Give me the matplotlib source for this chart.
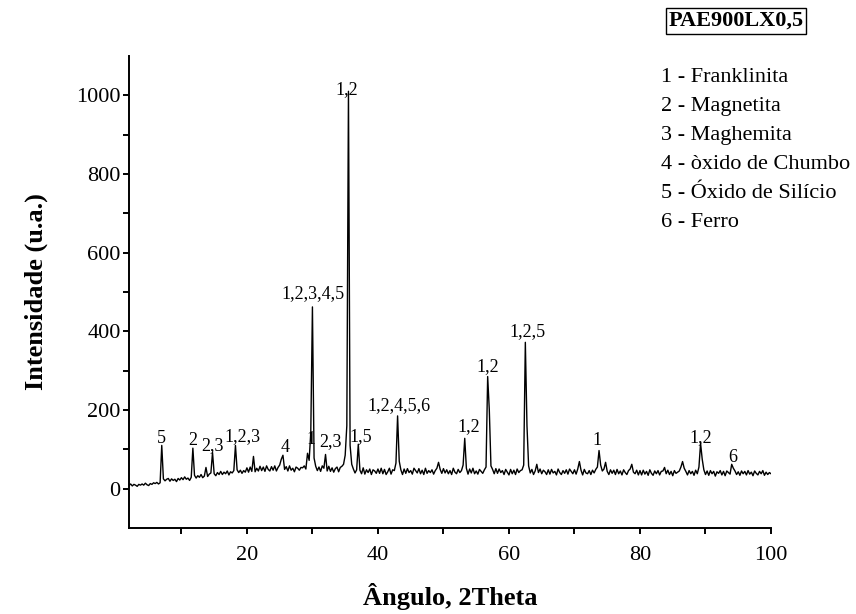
import numpy as np
import matplotlib
matplotlib.use('Agg')
import matplotlib.pyplot as plt
from matplotlib.ticker import MultipleLocator

plt.rcParams['font.family'] = ['Liberation Serif', 'DejaVu Serif']

# XRD pattern, step 0.25 deg from 2 to 100
start_angle = 2.0
step = 0.25
intensity = [
    8, 12, 7, 11, 9, 6, 11, 9,              # 2
    12, 9, 14, 10, 8, 13, 11, 15,           # 4
    13, 16, 12, 15, 110, 25, 20, 24,        # 6
    26, 19, 25, 21, 24, 18, 26, 22,         # 8
    28, 23, 30, 24, 27, 21, 29, 103,        # 10
    34, 27, 33, 29, 36, 28, 32, 54,         # 12
    31, 37, 40, 92, 38, 33, 41, 36,         # 14
    44, 36, 42, 38, 45, 35, 43, 40,         # 16
    46, 110, 48, 41, 47, 39, 46, 42,        # 18
    53, 42, 55, 44, 82, 43, 52, 45,         # 20
    57, 46, 55, 44, 58, 49, 45, 56,         # 22
    47, 58, 45, 54, 60, 75, 85, 49,         # 24
    56, 45, 58, 47, 52, 43, 55, 52,         # 26
    47, 54, 53, 58, 50, 90, 72, 144,        # 28
    462, 78, 57, 46, 55, 44, 58, 52,        # 30
    87, 45, 57, 44, 53, 42, 51, 55,         # 32
    43, 54, 57, 62, 85, 160, 1010, 110,     # 34
    62, 50, 40, 48, 113, 47, 38, 53,        # 36
    37, 48, 41, 50, 36, 48, 45, 39,         # 38
    50, 39, 52, 38, 49, 36, 43, 52,         # 40
    37, 48, 46, 65, 185, 70, 48, 36,        # 42
    50, 39, 51, 41, 46, 37, 52, 46,         # 44
    40, 51, 38, 47, 36, 52, 39, 46,         # 46
    41, 48, 37, 46, 52, 67, 49, 39,         # 48
    51, 40, 48, 38, 46, 36, 52, 42,         # 50
    38, 49, 41, 46, 60, 128, 52, 37,        # 52
    50, 40, 52, 38, 45, 37, 49, 44,         # 54
    39, 48, 55, 285, 200, 58, 49, 38,       # 56
    51, 39, 50, 41, 46, 36, 49, 42,         # 58
    35, 49, 38, 47, 36, 50, 41, 46,         # 60
    48, 60, 372, 160, 58, 40, 49, 36,       # 62
    45, 62, 41, 50, 38, 47, 43, 36,         # 64
    48, 37, 49, 40, 44, 35, 50, 41,         # 66
    36, 46, 39, 48, 37, 50, 44, 38,         # 68
    48, 37, 50, 69, 47, 35, 49, 40,         # 70
    38, 46, 36, 47, 40, 49, 55, 97,         # 72
    60, 45, 50, 67, 44, 36, 48, 39,         # 74
    47, 36, 49, 38, 45, 35, 48, 41,         # 76
    36, 46, 50, 62, 42, 38, 47, 35,         # 78
    46, 35, 47, 37, 44, 34, 48, 39,         # 80
    34, 45, 38, 46, 35, 44, 45, 54,         # 82
    38, 47, 36, 44, 33, 46, 39, 42,         # 84
    45, 55, 69, 52, 44, 35, 46, 38,         # 86
    44, 34, 47, 38, 55, 115, 75, 48,        # 88
    36, 45, 34, 46, 38, 44, 32, 43,         # 90
    39, 46, 35, 44, 33, 45, 41, 37,         # 92
    62, 52, 45, 36, 43, 34, 45, 38,         # 94
    44, 35, 46, 37, 42, 33, 45, 39,         # 96
    35, 44, 38, 46, 34, 42, 36, 41,         # 98
    38,                                     # 100
]

# peak labels: text, angle, intensity
peak_labels = ['5', '2', '2,3', '1,2,3', '4', '1', '2,3', '1,5', '1,2,4,5,6',
               '1,2,3,4,5', '1,2', '1,2', '1,2', '1,2,5', '1', '1,2', '6']
label_x = [6.9, 11.8, 14.8, 19.25, 25.8, 29.8, 32.7, 37.4, 43.2,
           30.1, 35.3, 53.8, 56.8, 62.8, 73.4, 89.3, 94.2]
label_y = [128, 123, 110, 133, 105, 126, 120, 133, 210,
           497, 1015, 159, 310, 400, 123, 131, 79]

phases = ['1 - Franklinita', '2 - Magnetita', '3 - Maghemita',
          '4 - òxido de Chumbo', '5 - Óxido de Silício', '6 - Ferro']
sample_name = 'PAE900LX0,5'

two_theta = start_angle + step * np.arange(len(intensity))

fig = plt.figure(figsize=(8.56, 6.14), dpi=100)
ax = fig.add_axes([0.1507, 0.140, 0.750, 0.769])
ax.plot(two_theta, intensity, color='black', lw=1.0)

for txt, lx, ly in zip(peak_labels, label_x, label_y):
    ax.text(lx, ly, txt, ha='center', va='center', fontsize=13)

ax.set_xlim(2, 100)
ax.set_ylim(-100, 1100)
ax.xaxis.set_major_locator(MultipleLocator(20))
ax.xaxis.set_minor_locator(MultipleLocator(10))
ax.set_yticks([0, 200, 400, 600, 800, 1000])
ax.set_yticks([100, 300, 500, 700, 900], minor=True)
ax.spines['top'].set_visible(False)
ax.spines['right'].set_visible(False)
for s in ['left', 'bottom']:
    ax.spines[s].set_linewidth(1.4)
ax.tick_params(which='both', direction='out', length=4.5, width=1.4)
ax.tick_params(axis='y', which='major', labelsize=16, pad=1.5)
ax.tick_params(axis='x', which='major', labelsize=16, pad=8.5)

ax.set_xlabel('Ângulo, 2Theta', fontsize=19, fontweight='bold', labelpad=13)
ax.set_ylabel('Intensidade (u.a.)', fontsize=19, fontweight='bold', labelpad=20)

fig.text(0.860, 0.966, sample_name, ha='center', va='center', fontsize=16,
         fontweight='bold',
         bbox=dict(boxstyle='square,pad=0.12', fc='white', ec='black', lw=1))

for i, p in enumerate(phases):
    fig.text(0.772, 0.874 - i * 0.0472, p, ha='left', va='center', fontsize=16)

fig.savefig('out.png', dpi=100)
